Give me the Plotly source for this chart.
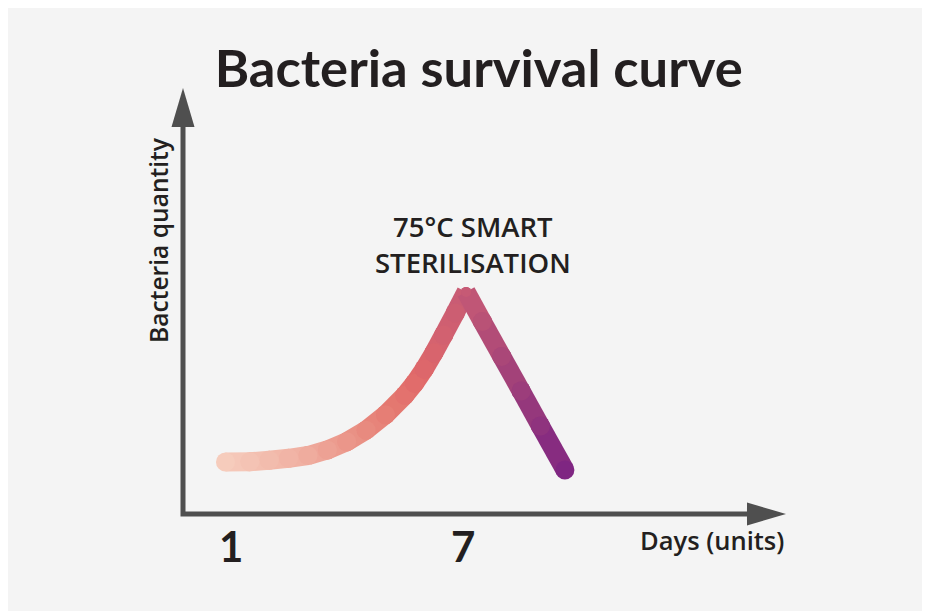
import plotly.graph_objects as go
from plotly.colors import sample_colorscale

# Curve: day vs. relative bacteria quantity
DAYS = [0.87, 1.5, 2.0, 2.5, 3.0, 3.5, 4.0, 4.5, 5.0, 5.5, 5.75, 6.0, 6.25, 6.5, 6.8, 7.08,
        7.5, 8.0, 8.5, 9.0, 9.63]
QTY = [2.42, 2.43, 2.50, 2.59, 2.72, 2.98, 3.36, 3.90, 4.62, 5.52, 6.08, 6.74, 7.50, 8.33, 9.35, 10.33,
       8.95, 7.33, 5.72, 4.09, 2.05]

TICK_DAYS = [1, 7]
TICK_TEXT = ["1", "7"]

TITLE = "Bacteria survival curve"
X_LABEL = "Days (units)"
Y_LABEL = "Bacteria quantity"
PEAK_LABEL = "75°C SMART<br>STERILISATION"

# peach -> coral -> magenta -> purple, left to right
GRADIENT = [
    [0.0, "#f6ccbc"],
    [0.22, "#f0b0a2"],
    [0.37, "#ea9488"],
    [0.49, "#e57a71"],
    [0.57, "#e0696a"],
    [0.71, "#c65a75"],
    [0.81, "#ab4878"],
    [0.90, "#95387c"],
    [1.0, "#7f2682"],
]

# Geometry (figure pixels) ---------------------------------------------------------
W, H = 930, 611
M_L, M_R, M_T, M_B = 150, 80, 60, 51
PLOT_W, PLOT_H = W - M_L - M_R, H - M_T - M_B
PX_PER_DAY, DAY1_PX = 38.75, 222.5     # day 1 sits at x = 222.5 px
PX_PER_Q, BASE_PY = 21.5, 506          # quantity 0 sits at y = 506 px
x_lo = 1 - (DAY1_PX - M_L) / PX_PER_DAY
y_lo = -(H - M_B - BASE_PY) / PX_PER_Q
X_RANGE = [x_lo, x_lo + PLOT_W / PX_PER_DAY]
Y_RANGE = [y_lo, y_lo + PLOT_H / PX_PER_Q]

AX_X0 = -0.2258      # where the vertical axis stands
X_TIP = 15.335       # arrow tip of the day axis
Y_TIP = 19.81        # arrow tip of the quantity axis
HEAD_LEN, HEAD_HALF = 39, 11.5
AXIS_COLOR = "#4f4f4f"
TEXT_COLOR = "#231f20"
BG = "#f4f4f4"
TITLE_FONT = "Lato"
FONT = "Open Sans"
LINE_W = 19


def px_x(px):
    return (px - M_L) / PLOT_W


def px_y(py):
    return (H - M_B - py) / PLOT_H


fig = go.Figure()

# Gradient curve, drawn segment by segment
t_vals = [(d - DAYS[0]) / (DAYS[-1] - DAYS[0]) for d in DAYS]
peak_i = QTY.index(max(QTY))
for i in range(len(DAYS) - 1):
    seg_color = sample_colorscale(GRADIENT, [(t_vals[i] + t_vals[i + 1]) / 2])[0]
    dot_colors = sample_colorscale(GRADIENT, [t_vals[i], t_vals[i + 1]])
    sizes = [10 if j == peak_i else LINE_W for j in (i, i + 1)]
    fig.add_trace(go.Scatter(
        x=DAYS[i:i + 2],
        y=QTY[i:i + 2],
        mode="lines+markers",
        line=dict(color=seg_color, width=LINE_W),
        marker=dict(color=dot_colors, size=sizes, opacity=1, line=dict(width=0)),
        hoverinfo="skip",
        showlegend=False,
    ))

shapes = [
    # axes
    dict(type="path", xref="x", yref="y",
         path=(f"M{AX_X0},{Y_TIP - (HEAD_LEN - 3) / PX_PER_Q} L{AX_X0},0 "
               f"L{X_TIP - (HEAD_LEN - 3) / PX_PER_DAY},0"),
         line=dict(color=AXIS_COLOR, width=5)),
    # arrow heads (pixel sized)
    dict(type="path", xref="x", yref="y", xsizemode="pixel", ysizemode="pixel",
         xanchor=AX_X0, yanchor=Y_TIP,
         path=f"M0,0 L{-HEAD_HALF},{-HEAD_LEN} L{HEAD_HALF},{-HEAD_LEN} Z",
         fillcolor=AXIS_COLOR, line=dict(width=0)),
    dict(type="path", xref="x", yref="y", xsizemode="pixel", ysizemode="pixel",
         xanchor=X_TIP, yanchor=0,
         path=f"M0,0 L{-HEAD_LEN},{HEAD_HALF} L{-HEAD_LEN},{-HEAD_HALF} Z",
         fillcolor=AXIS_COLOR, line=dict(width=0)),
]

annotations = [
    dict(text=Y_LABEL, xref="paper", yref="paper", x=px_x(150), y=px_y(232),
         xanchor="center", yanchor="middle", textangle=-90, showarrow=False,
         font=dict(family=FONT, size=24.6, color=TEXT_COLOR, weight=600)),
    dict(text=X_LABEL, xref="paper", yref="paper", x=px_x(778), y=px_y(531.5),
         xanchor="right", yanchor="middle", showarrow=False,
         font=dict(family=FONT, size=25.5, color=TEXT_COLOR, weight=600)),
    dict(text=PEAK_LABEL, xref="x", yref="y", x=DAYS[peak_i], y=QTY[peak_i],
         xanchor="center", yanchor="middle", xshift=7, yshift=47,
         showarrow=False, align="center",
         font=dict(family=FONT, size=27.5, color=TEXT_COLOR, weight=600)),
]
for d, t in zip(TICK_DAYS, TICK_TEXT):
    annotations.append(dict(
        text=t, xref="x", yref="paper", x=d, y=px_y(537.5),
        xanchor="center", yanchor="middle", showarrow=False,
        font=dict(family=TITLE_FONT, size=42, color=TEXT_COLOR, weight=700),
    ))

fig.update_layout(
    width=W,
    height=H,
    margin=dict(l=M_L, r=M_R, t=M_T, b=M_B),
    paper_bgcolor=BG,
    plot_bgcolor=BG,
    title=dict(text=TITLE, xref="container", yref="container",
               x=470.7 / W, y=1 - 61 / H, xanchor="center", yanchor="middle",
               font=dict(family=TITLE_FONT, size=52.5, color=TEXT_COLOR, weight=700)),
    xaxis=dict(range=X_RANGE, visible=False, fixedrange=True),
    yaxis=dict(range=Y_RANGE, visible=False, fixedrange=True),
    shapes=shapes,
    annotations=annotations,
)

fig.write_html("out.html")
